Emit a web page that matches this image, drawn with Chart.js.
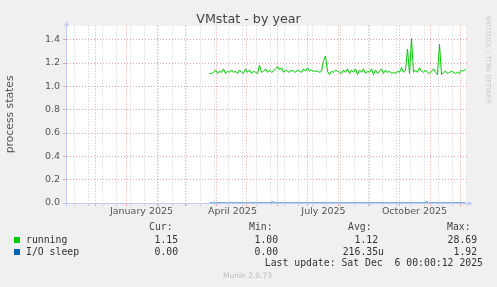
<!DOCTYPE html>
<html>
<head>
<meta charset="utf-8">
<title>VMstat - by year</title>
<script src="https://cdn.jsdelivr.net/npm/chart.js@4.4.1/dist/chart.umd.min.js"></script>
<style>
  html, body { margin: 0; padding: 0; background: #f0f0f0; }
  #wrap { position: relative; width: 497px; height: 287px; overflow: hidden; font-family: "DejaVu Sans", sans-serif; }
  #chart { position: absolute; left: 0; top: 0; }
  .txt { position: absolute; white-space: pre; }
  .mono { font-family: "DejaVu Sans Mono", monospace; font-size: 9.8px; line-height: 12px; color: #333; }
  #title { left: 0; width: 497px; top: 12px; text-align: center; font-size: 12.7px; line-height: 13px; color: #444; }
  #vendor { left: 484px; top: 15px; writing-mode: vertical-rl; font-size: 6.9px; line-height: 7px; color: #c8c8c8; }
  #version { left: 0; width: 495px; top: 271px; text-align: center; font-size: 7.5px; line-height: 10px; color: #bbb; }
  .swatch { position: absolute; width: 6px; height: 6px; }
</style>
</head>
<body>
<div id="wrap">
  <canvas id="chart" width="497" height="287"></canvas>
  <div id="title" class="txt">VMstat - by year</div>
  <div id="vendor" class="txt">RRDTOOL / TOBI OETIKER</div>
  <div id="legend"></div>
  <div id="version" class="txt">Munin 2.0.73</div>
</div>
<script>
// days counted from 2025-01-01 (day 0)
const xMin = -59.5;
const xMax = 340.5;
const monthDays = [-31, 0, 31, 59, 90, 120, 151, 181, 212, 243, 273, 304, 334];
const minorDays = [-52, -38, -24, -10, 4, 18, 32, 46, 60, 74, 88, 102, 116, 130, 144, 158, 172, 186, 200, 214, 228, 242, 256, 270, 284, 298, 312, 326, 340];
const labelDays = [15, 106, 197, 288];
const labelTexts = ["January 2025", "April 2025", "July 2025", "October 2025"];

const yMax = 1.52;
const yGrid = [0, 0.1, 0.2, 0.3, 0.4, 0.5, 0.6, 0.7, 0.8, 0.9, 1.0, 1.1, 1.2, 1.3, 1.4, 1.5];

// running: one sample every 2 days starting at day 83
const runningStart = 83;
const runningStep = 2;
const runningValues = [
  1.11, 1.11, 1.12, 1.14, 1.11, 1.13, 1.12, 1.15, 1.11, 1.13,
  1.12, 1.14, 1.12, 1.13, 1.11, 1.14, 1.12, 1.11, 1.15, 1.12,
  1.14, 1.11, 1.13, 1.12, 1.11, 1.18, 1.12, 1.13, 1.15, 1.12,
  1.14, 1.12, 1.13, 1.15, 1.17, 1.14, 1.16, 1.12, 1.14, 1.13,
  1.12, 1.14, 1.13, 1.12, 1.14, 1.13, 1.12, 1.15, 1.13, 1.16,
  1.13, 1.14, 1.13, 1.13, 1.13, 1.12, 1.13, 1.22, 1.26, 1.13,
  1.10, 1.13, 1.12, 1.14, 1.13, 1.12, 1.11, 1.14, 1.12, 1.15,
  1.11, 1.14, 1.12, 1.15, 1.10, 1.14, 1.12, 1.15, 1.11, 1.13,
  1.12, 1.15, 1.10, 1.14, 1.11, 1.13, 1.15, 1.11, 1.14, 1.12,
  1.13, 1.11, 1.12, 1.11, 1.13, 1.12, 1.16, 1.12, 1.14, 1.32,
  1.11, 1.41, 1.12, 1.14, 1.12, 1.16, 1.13, 1.12, 1.14, 1.12,
  1.11, 1.13, 1.15, 1.12, 1.10, 1.36, 1.10, 1.12, 1.13, 1.11,
  1.12, 1.13, 1.12, 1.11, 1.12, 1.11, 1.14, 1.13, 1.15,
];
const ioSleepDays = [83, 144, 146, 148, 298, 300, 302, 339];
const ioSleepValues = [0, 0, 0.012, 0, 0, 0.012, 0, 0];

const seriesNames = ["running", "I/O sleep"];
const seriesColors = ["#00cc00", "#0066b3"];
const statCur = ["1.15", "0.00"];
const statMin = ["1.00", "0.00"];
const statAvg = ["1.12", "216.35u"];
const statMax = ["28.69", "1.92"];
const lastUpdate = "Last update: Sat Dec  6 00:00:12 2025";

const MAJOR = "#e8a4a4";
const MINOR = "#cfcfcf";
const AXIS = "#c4cbf2";
const TEXT = "#555";

function xGridColor(c) {
  const v = c.tick ? c.tick.value : null;
  if (monthDays.includes(v)) return MAJOR;
  if (labelDays.includes(v)) return "rgba(0,0,0,0)";
  return MINOR;
}

function yGridColor(c) {
  const v = c.tick ? c.tick.value : 0;
  return Math.round(v * 10) % 2 === 0 ? MAJOR : MINOR;
}

const plotBackground = {
  id: "plotBackground",
  beforeDraw(chart) {
    const { ctx, chartArea: a } = chart;
    ctx.save();
    ctx.fillStyle = "#ffffff";
    ctx.fillRect(a.left, a.top, a.right - a.left, a.bottom - a.top);
    ctx.restore();
  },
};

// rrdtool style axes with arrow heads
const axisArrows = {
  id: "axisArrows",
  beforeDatasetsDraw(chart) {
    const { ctx, chartArea: a } = chart;
    const x0 = Math.round(a.left) - 0.5;
    const y0 = Math.round(a.bottom) + 0.5;
    ctx.save();
    ctx.strokeStyle = AXIS;
    ctx.fillStyle = AXIS;
    ctx.lineWidth = 1;
    ctx.beginPath();
    ctx.moveTo(x0, y0 + 3);
    ctx.lineTo(x0, a.top);
    ctx.moveTo(x0 - 3, y0);
    ctx.lineTo(a.right + 1, y0);
    ctx.stroke();
    ctx.beginPath();
    ctx.moveTo(x0 - 2.5, a.top + 0.5);
    ctx.lineTo(x0 + 2.5, a.top + 0.5);
    ctx.lineTo(x0, a.top - 4.5);
    ctx.closePath();
    ctx.fill();
    ctx.beginPath();
    ctx.moveTo(a.right + 1, y0 - 2.5);
    ctx.lineTo(a.right + 1, y0 + 2.5);
    ctx.lineTo(a.right + 6, y0);
    ctx.closePath();
    ctx.fill();
    ctx.restore();
  },
};

function buildLegend() {
  const legend = document.getElementById("legend");
  const add = (text, cls, style) => {
    const el = document.createElement("div");
    el.className = "txt mono " + (cls || "");
    el.textContent = text;
    Object.assign(el.style, style);
    legend.appendChild(el);
    return el;
  };
  const headerTop = 221;
  [["Cur:", 149], ["Min:", 249], ["Avg:", 348], ["Max:", 447]].forEach(([t, x]) => {
    add(t, "", { left: x + "px", top: headerTop + "px", color: "#444" });
  });
  const rights = [184, 284, 384, 483];
  seriesNames.forEach((name, i) => {
    const top = 234 + i * 11.8;
    const sw = document.createElement("div");
    sw.className = "swatch";
    sw.style.left = "14px";
    sw.style.top = top + 3 + "px";
    sw.style.background = seriesColors[i];
    legend.appendChild(sw);
    add(name, "", { left: "26px", top: top + "px" });
    [statCur[i], statMin[i], statAvg[i], statMax[i]].forEach((val, j) => {
      const text = /[a-z]$/i.test(val) ? val : val + " ";
      add(text, "", { right: 497 - rights[j] + "px", top: top + "px" });
    });
  });
  add(lastUpdate, "", { right: 497 - 483 + "px", top: "257px" });
}

function renderChart() {
  const ctx = document.getElementById("chart");
  new Chart(ctx, {
    type: "line",
    data: {
      datasets: [
        {
          label: seriesNames[0],
          data: runningValues.map((v, i) => ({ x: runningStart + runningStep * i, y: v })),
          borderColor: seriesColors[0],
          borderWidth: 1,
          pointRadius: 0,
          tension: 0,
        },
        {
          label: seriesNames[1],
          data: ioSleepValues.map((v, i) => ({ x: ioSleepDays[i], y: v })),
          borderColor: seriesColors[1],
          borderWidth: 1,
          pointRadius: 0,
          tension: 0,
        },
      ],
    },
    options: {
      responsive: false,
      animation: false,
      events: [],
      layout: { padding: { left: 0, right: 30, top: 25.7, bottom: 59 } },
      plugins: { legend: { display: false }, title: { display: false }, tooltip: { enabled: false } },
      scales: {
        x: {
          type: "linear",
          min: xMin,
          max: xMax,
          afterBuildTicks: (s) => {
            const all = [...monthDays, ...minorDays, ...labelDays].sort((a, b) => a - b);
            s.ticks = all.map((v) => ({ value: v }));
          },
          afterFit: (s) => { s.height = 25; },
          ticks: {
            autoSkip: false,
            maxRotation: 0,
            padding: 0,
            color: TEXT,
            font: { family: "DejaVu Sans", size: 9.5 },
            callback: (v) => {
              const i = labelDays.indexOf(v);
              return i >= 0 ? labelTexts[i] : "";
            },
          },
          grid: { color: xGridColor, tickColor: xGridColor, tickLength: 3, lineWidth: 1 },
          border: { display: false, dash: [1, 2] },
        },
        y: {
          min: 0,
          max: yMax,
          afterBuildTicks: (s) => { s.ticks = yGrid.map((v) => ({ value: v })); },
          afterFit: (s) => { s.width = 67; },
          ticks: {
            padding: 3,
            color: TEXT,
            font: { family: "DejaVu Sans", size: 9.5 },
            callback: (v) => (Math.round(v * 10) % 2 === 0 ? v.toFixed(1) : ""),
          },
          grid: { color: yGridColor, tickColor: yGridColor, tickLength: 4, lineWidth: 1 },
          border: { display: false, dash: [1, 2] },
          title: {
            display: true,
            text: "process states",
            color: TEXT,
            font: { family: "DejaVu Sans", size: 10.8 },
            padding: { top: 4, bottom: 4 },
          },
        },
      },
    },
    plugins: [plotBackground, axisArrows],
  });
}

document.addEventListener("DOMContentLoaded", () => {
  buildLegend();
  renderChart();
});
</script>
</body>
</html>
